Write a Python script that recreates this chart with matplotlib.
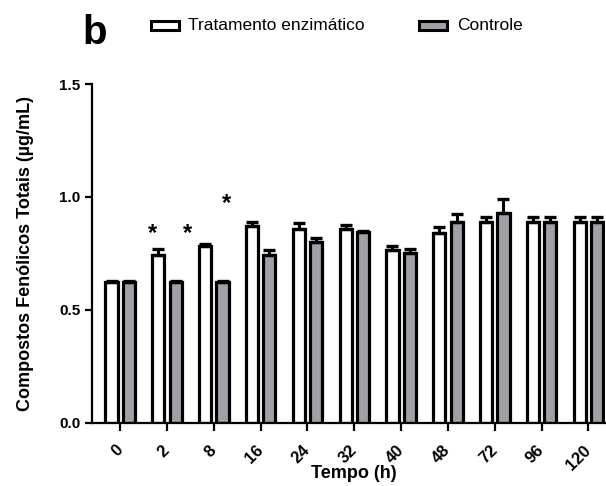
import matplotlib
matplotlib.use("Agg")
import matplotlib.pyplot as plt
import numpy as np
from matplotlib.patches import Rectangle

plt.rcParams['font.family'] = ['Liberation Sans', 'DejaVu Sans']

categories = ["0", "2", "8", "16", "24", "32", "40", "48", "72", "96", "120"]
tratamento = [0.625, 0.745, 0.785, 0.870, 0.860, 0.860, 0.765, 0.840, 0.890, 0.890, 0.890]
tratamento_err = [0.005, 0.025, 0.005, 0.020, 0.025, 0.015, 0.020, 0.025, 0.020, 0.020, 0.020]
controle = [0.625, 0.625, 0.625, 0.745, 0.800, 0.845, 0.750, 0.890, 0.930, 0.890, 0.890]
controle_err = [0.005, 0.005, 0.005, 0.020, 0.020, 0.005, 0.020, 0.035, 0.060, 0.020, 0.020]
stars_x = [0.70, 1.43, 2.28]
stars_y = [0.84, 0.84, 0.97]

fig = plt.figure(figsize=(6.06, 4.86), dpi=100)
ax = fig.add_axes([0.152, 0.130, 0.846, 0.697])

x = np.arange(len(categories))
w = 0.26
off = 0.185
grey = '#a0a0a5'
ax.bar(x - off, tratamento, w, color='white', edgecolor='black', linewidth=2.3, zorder=2)
ax.bar(x + off, controle, w, color=grey, edgecolor='black', linewidth=2.3, zorder=2)
ax.errorbar(x - off, tratamento, yerr=[np.zeros(len(x)), tratamento_err], fmt='none',
            ecolor='black', elinewidth=2.2, capsize=4, capthick=2.4, zorder=3)
ax.errorbar(x + off, controle, yerr=[np.zeros(len(x)), controle_err], fmt='none',
            ecolor='black', elinewidth=2.2, capsize=4, capthick=2.4, zorder=3)

for sx, sy in zip(stars_x, stars_y):
    ax.text(sx, sy, '*', ha='center', va='center', fontsize=17, fontweight='bold')

ax.set_xlim(-0.6, 10.35)
ax.set_ylim(0, 1.5)
ax.set_yticks([0, 0.5, 1.0, 1.5])
ax.set_yticklabels(["0.0", "0.5", "1.0", "1.5"], fontsize=11, fontweight='bold')
ax.set_xticks(x)
ax.set_xticklabels(categories, rotation=45, ha='right', va='center', rotation_mode='anchor',
                   fontsize=12, fontweight='bold')
for s in ['top', 'right']:
    ax.spines[s].set_visible(False)
for s in ['left', 'bottom']:
    ax.spines[s].set_linewidth(1.6)
ax.tick_params(axis='y', width=1.6, length=5)
ax.tick_params(axis='x', width=1.6, length=6, pad=12)
ax.set_xlabel("Tempo (h)", fontsize=13, fontweight='bold')
ax.xaxis.set_label_coords((354 - 92) / 513, -0.124)
ax.set_ylabel("Compostos Fenólicos Totais (µg/mL)", fontsize=13, fontweight='bold', labelpad=18)

fig.text(0.157, 0.932, "b", fontsize=29, fontweight='bold', ha='center', va='center')
fig.patches.append(Rectangle((0.249, 0.938), 0.046, 0.0185, transform=fig.transFigure,
                             facecolor='white', edgecolor='black', linewidth=2.2))
fig.text(0.310, 0.948, "Tratamento enzimático", fontsize=12.5, ha='left', va='center')
fig.patches.append(Rectangle((0.691, 0.938), 0.046, 0.0185, transform=fig.transFigure,
                             facecolor=grey, edgecolor='black', linewidth=2.2))
fig.text(0.754, 0.948, "Controle", fontsize=12.5, ha='left', va='center')

fig.savefig("out.png", dpi=100)
